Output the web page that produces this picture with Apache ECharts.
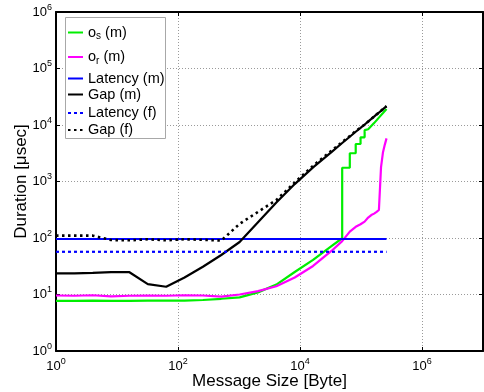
<!DOCTYPE html>
<html>
<head>
<meta charset="utf-8">
<script src="https://cdn.jsdelivr.net/npm/echarts@6/dist/echarts.min.js"></script>
<style>
  html, body { margin: 0; padding: 0; background: #fff; }
  #chart { width: 484px; height: 392px; }
</style>
</head>
<body>
<div id="chart"></div>
<script>
// Message sizes in bytes (shared by the gap and receive-overhead curves)
const sizes = [1, 2, 4, 8, 16, 32, 64, 128, 256, 512, 1024, 2048, 4096, 8192, 16384, 32768,
  49152, 65536, 81920, 98304, 114688, 131072, 147456, 163840, 180224, 196608,
  212992, 229376, 245760, 262144];

// Send overhead o_s (m): staircase above 48 KiB, so it keeps its own size list
const osSizes = [1, 2, 4, 8, 16, 32, 64, 128, 256, 512, 1024, 2048, 4096, 8192, 16384, 32768,
  49152, 49152, 65536, 65536, 81920, 81920, 98304, 98304, 114688, 114688,
  131072, 163840, 196608, 229376, 262144];
const osVals = [7.7, 7.7, 7.8, 7.7, 7.7, 7.8, 7.8, 7.8, 8.0, 8.4, 8.9, 10.9, 15, 25, 41, 72,
  99, 1750, 1750, 3160, 3160, 4610, 4610, 6060, 6060, 8100,
  8400, 10800, 13500, 16300, 19200];

// Receive overhead o_r (m)
const orVals = [9.6, 9.5, 9.7, 9.3, 9.5, 9.6, 9.5, 9.7, 9.6, 9.2, 10.0, 11.5, 14, 20, 32, 59,
  88, 130, 158, 175, 195, 230, 255, 270, 290, 313, 1800, 3300, 4500, 5800];

// Gap, measured (m) and fitted (f)
const gapM = [23.7, 23.7, 24.2, 24.8, 24.8, 15.3, 13.7, 20, 31, 50, 85, 190, 425, 900, 1780, 3300,
  4800, 6200, 7600, 8900, 10200, 11500, 12800, 14100, 15400, 16600, 17800, 19100, 20300, 21500];
const gapF = [110, 110, 110, 92, 91, 95, 91, 95, 93, 90, 178, 290, 470, 960, 1900, 3500,
  5000, 6400, 7800, 9000, 10200, 11500, 12800, 14100, 15400, 16600, 17800, 19100, 20300, 21500];

// Latency is constant over the measured range
const latSizes = [1, 262144];
const latM = [96, 96];
const latF = [57, 57];

// Legend entries, top to bottom
const legendNames = ['os', 'or', 'Latency (m)', 'Gap (m)', 'Latency (f)', 'Gap (f)'];

const FONT = 'Liberation Sans, Arial, Helvetica, sans-serif';

function pairs(xs, ys) { return xs.map((x, i) => [x, ys[i]]); }

function powLabel(maxExp) {
  return function (v) {
    const l = Math.log10(v);
    const e = Math.round(l);
    if (Math.abs(l - e) > 1e-6 || e > maxExp) return '';
    return '{b|10}{e|' + e + '}';
  };
}
const labelRich = {
  b: { fontSize: 13, fontFamily: FONT, color: '#000' },
  e: { fontSize: 9, fontFamily: FONT, color: '#000', padding: [0, 0, 9, 0] }
};

const boxLine = { show: true, onZero: false, lineStyle: { color: '#000', width: 2 } };
const tickIn = { show: true, inside: true, length: 4, lineStyle: { color: '#000', width: 1 } };
const gridLine = { show: true, lineStyle: { color: '#9a9a9a', width: 1, type: [1, 2] } };

// One legend block per entry so each row sits at its own height inside the box
const legendRowTops = [23.5, 48, 71, 87, 105.5, 122.5];
const legendRich = {
  t: { fontFamily: FONT, fontSize: 14.5, lineHeight: 18, color: '#000' },
  s: { fontFamily: FONT, fontSize: 10, lineHeight: 18, color: '#000', padding: [8, 0, 0, 0] },
  n: { fontFamily: FONT, fontSize: 14.5, lineHeight: 18, color: '#000' }
};
const legends = legendNames.map((name, i) => ({
  data: [name],
  left: 67, top: legendRowTops[i],
  padding: 0,
  itemWidth: 15, itemHeight: 10, itemTextGap: 1,
  itemStyle: { opacity: 0 },
  selectedMode: false,
  z: 10,
  textStyle: { fontFamily: FONT, fontSize: 14.5, color: '#000', rich: legendRich },
  formatter: function (n) {
    if (n === 'os') return '{t|o}{s|s}{t| (m)}';
    if (n === 'or') return '{t|o}{s|r}{t| (m)}';
    return '{n|' + n + '}';
  }
}));

const chart = echarts.init(document.getElementById('chart'), null, { renderer: 'canvas' });

chart.setOption({
  animation: false,
  backgroundColor: '#fff',
  grid: { left: 56, right: 1, top: 12, bottom: 41, containLabel: false, outerBoundsMode: 'none' },
  graphic: [{
    type: 'rect', z: 9,
    shape: { x: 65.5, y: 17.5, width: 100, height: 121 },
    style: { fill: '#fff', stroke: '#a8a8a8', lineWidth: 1 }
  }],
  legend: legends,
  xAxis: [
    {
      type: 'log', logBase: 100, min: 1, max: 1e7,
      position: 'bottom',
      axisLine: boxLine, axisTick: tickIn, splitLine: gridLine,
      minorTick: { show: false }, minorSplitLine: { show: false },
      axisLabel: { formatter: powLabel(6), rich: labelRich, margin: 6, showMaxLabel: false },
      name: 'Message Size [Byte]', nameLocation: 'middle', nameGap: 22, nameMoveOverlap: false,
      nameTextStyle: { fontFamily: FONT, fontSize: 17, color: '#000' }
    },
    {
      type: 'log', logBase: 100, min: 1, max: 1e7,
      position: 'top',
      axisLine: boxLine, axisTick: tickIn,
      splitLine: { show: false }, axisLabel: { show: false }
    }
  ],
  yAxis: [
    {
      type: 'log', logBase: 10, min: 1, max: 1e6,
      position: 'left',
      axisLine: boxLine, axisTick: tickIn, splitLine: gridLine,
      minorTick: { show: false }, minorSplitLine: { show: false },
      axisLabel: { formatter: powLabel(6), rich: labelRich, margin: 4 },
      name: 'Duration [μsec]', nameLocation: 'middle', nameGap: 26, nameMoveOverlap: false,
      nameTextStyle: { fontFamily: FONT, fontSize: 17, color: '#000' }
    },
    {
      type: 'log', logBase: 10, min: 1, max: 1e6,
      position: 'right',
      axisLine: boxLine, axisTick: tickIn,
      splitLine: { show: false }, axisLabel: { show: false }
    }
  ],
  series: [
    { name: 'os', type: 'line', data: pairs(osSizes, osVals), showSymbol: false, symbol: 'none',
      lineStyle: { color: '#00ee00', width: 2.2 }, itemStyle: { color: '#00ee00' } },
    { name: 'or', type: 'line', data: pairs(sizes, orVals), showSymbol: false, symbol: 'none',
      lineStyle: { color: '#ff00ff', width: 2.2 }, itemStyle: { color: '#ff00ff' } },
    { name: 'Latency (m)', type: 'line', data: pairs(latSizes, latM), showSymbol: false, symbol: 'none',
      lineStyle: { color: '#0000ff', width: 2.2 }, itemStyle: { color: '#0000ff' } },
    { name: 'Gap (m)', type: 'line', data: pairs(sizes, gapM), showSymbol: false, symbol: 'none',
      lineStyle: { color: '#000', width: 2.2 }, itemStyle: { color: '#000' } },
    { name: 'Latency (f)', type: 'line', data: pairs(latSizes, latF), showSymbol: false, symbol: 'none',
      lineStyle: { color: '#0000ff', width: 2.2, type: [3, 3] }, itemStyle: { color: '#0000ff' } },
    { name: 'Gap (f)', type: 'line', data: pairs(sizes, gapF), showSymbol: false, symbol: 'none',
      lineStyle: { color: '#000', width: 2.6, type: [2.5, 3.5] }, itemStyle: { color: '#000' } }
  ]
});
</script>
</body>
</html>
